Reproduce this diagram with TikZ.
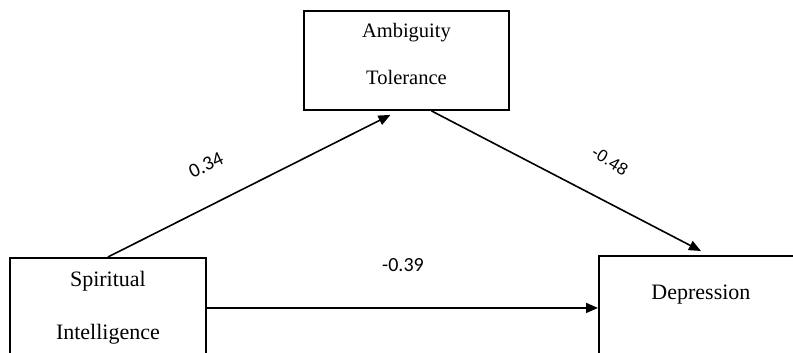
\documentclass[tikz,border=0pt]{standalone}
\usepackage{fontspec}
\setmainfont{Liberation Serif}
\newfontfamily\calibrifont{Carlito}
\newfontfamily\arialfont{Liberation Sans}
\usetikzlibrary{arrows.meta}

\tikzstyle{var}=[
   rectangle,
   draw=black,
   line width=1.9pt,
   inner sep=0pt,
   anchor=north west
]
\tikzstyle{varname}=[
   font=\fontsize{22}{26}\selectfont,
   anchor=base,
   inner sep=0pt
]
\tikzstyle{coef}=[
   font=\calibrifont\fontsize{20}{24}\selectfont,
   inner sep=0pt
]

\begin{document}
\begin{tikzpicture}[
         x=1pt, y=1pt,
         >={Triangle[length=12pt,width=10pt]},
         line width=1.6pt
      ]
      \useasboundingbox (0,0) rectangle (793,353);

      % boxes
      \node (amb) [var, minimum width=205pt, minimum height=99pt] at (303,343) {};
      \node (spi) [var, minimum width=196pt, minimum height=100pt] at (9,96) {};
      \node (dep) [var, minimum width=204pt, minimum height=120pt] at (598,98) {};

      % box texts
      \node (amb1) [varname, font=\fontsize{20.5}{24}\selectfont] at ([yshift=-27.7pt]amb.north) {Ambiguity};
      \node (amb2) [varname, font=\fontsize{20.5}{24}\selectfont] at ([yshift=-75pt]amb.north) {Tolerance};
      \node (spi1) [varname] at ([yshift=-29.7pt]spi.north) {Spiritual};
      \node (spi2) [varname] at ([yshift=-83pt]spi.north) {Intelligence};
      \node (dep1) [varname] at ([yshift=-45pt]dep.north) {Depression};

      % coefficients
      \node (c1) [coef, rotate=25] at (206,188) {0.34};
      \node (c2) [coef, font=\arialfont\fontsize{17}{20}\selectfont, rotate=-32] at (610,192) {-0.48};
      \node (c3) [coef] at (403,88) {-0.39};

      \draw[->] (spi.north) -- ([shift={(-16pt,-4pt)}]amb.south);
      \draw[->] ([xshift=25pt]amb.south) -- ([yshift=4pt]dep.north);
      \draw[->] (spi.east) -- (spi.east -| dep.west);

   \end{tikzpicture}
\end{document}
